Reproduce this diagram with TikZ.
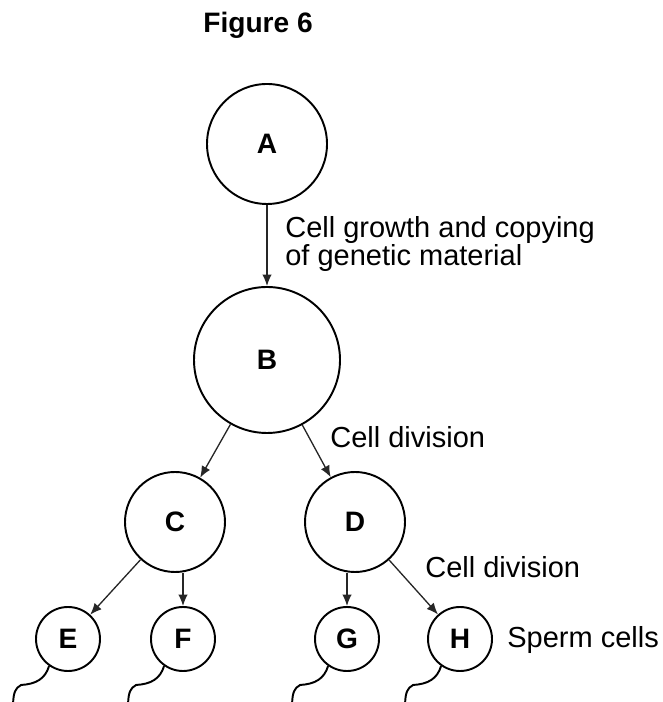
\documentclass[tikz,border=0pt]{standalone}
\usepackage{fontspec}
\setmainfont{Liberation Sans}
\usepackage{tikz}
\usetikzlibrary{arrows.meta}

\begin{document}
\begin{tikzpicture}[
  font=\fontsize{16.5}{16}\selectfont,
  cell/.style={circle, draw=black, line width=1.1pt, inner sep=0pt,
    font=\fontsize{16}{16}\selectfont\bfseries},
  bigcell/.style={cell, minimum size=2.92cm},
  topcell/.style={cell, minimum size=2.4cm},
  midcell/.style={cell, minimum size=2.0cm},
  spermcell/.style={cell, minimum size=1.28cm},
  split/.style={draw=black!85, line width=0.75pt, -{Latex[length=2.3mm, width=1.9mm]}},
  tail/.style={draw=black, line width=1.1pt},
  note/.style={inner sep=0pt, anchor=base west}
]
\useasboundingbox (0,0) rectangle (13.24,14.04);

% title
\node[note, font=\fontsize{16}{16}\selectfont\bfseries] (title) at (4.06,13.38) {Figure 6};

% cells
\node[topcell]   (A) at (5.34,11.16) {A};
\node[bigcell]   (B) at (5.34,6.84)  {B};
\node[midcell]   (C) at (3.50,3.60)  {C};
\node[midcell]   (D) at (7.10,3.60)  {D};
\node[spermcell] (E) at (1.36,1.26)  {E};
\node[spermcell] (F) at (3.66,1.26)  {F};
\node[spermcell] (G) at (6.94,1.26)  {G};
\node[spermcell] (H) at (9.20,1.26)  {H};

% divisions
\draw[split] (A) -- (B);
\draw[split] (B) -- (C);
\draw[split] (B) -- (D);
\draw[split] (C) -- (E);
\draw[split] (C.south -| F) -- (F);
\draw[split] (D.south -| G) -- (G);
\draw[split] (D) -- (H);

% tails
\foreach \s in {E,F,G,H}
  \draw[tail] (\s.235) .. controls +(-0.08,-0.26) and +(0.30,0.02) .. ++(-0.56,-0.38)
     .. controls +(-0.12,-0.06) and +(0.01,0.20) .. ++(-0.16,-0.36);

% labels
\node[inner sep=0pt, anchor=north west, align=left] (growth) at (5.70,9.72)
  {Cell growth and copying\\of genetic material};
\node[note] (div1) at (6.60,5.08) {Cell division};
\node[note] (div2) at (8.50,2.48) {Cell division};
\node[note] (sperm) at (10.14,1.08) {Sperm cells};
\end{tikzpicture}
\end{document}
